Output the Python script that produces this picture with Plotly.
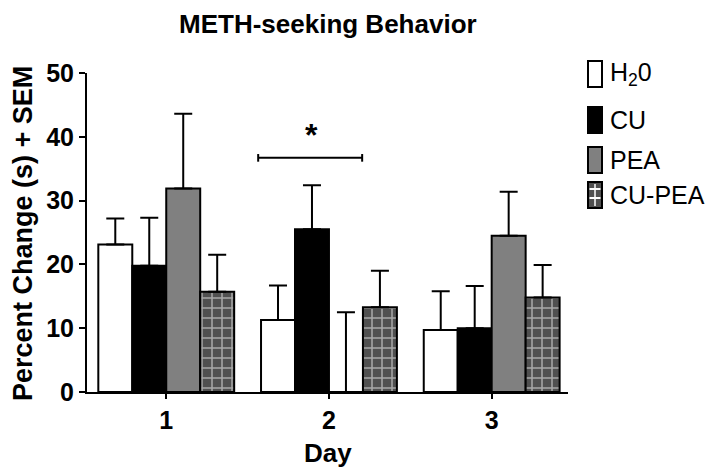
import plotly.graph_objects as go

# ---- data ----
days = ["1", "2", "3"]
groups = ["H<sub>2</sub>0", "CU", "PEA", "CU-PEA"]
h2o = [23.1, 11.3, 9.7]
h2o_sem = [4.1, 5.4, 6.1]
cu = [19.8, 25.5, 10.0]
cu_sem = [7.5, 6.9, 6.6]
pea = [31.9, 0.0, 24.5]
pea_sem = [11.7, 12.5, 6.9]
cupea = [15.7, 13.3, 14.8]
cupea_sem = [5.8, 5.7, 5.1]
sig_label = "*"
sig_y = 36.7

FONT = "Liberation Sans, Arial, Helvetica, sans-serif"
W, H = 710, 468
ML, MR, MT, MB = 87, 142, 73, 76
PW, PH = W - ML - MR, H - MT - MB

def px_x(x):
    return (x - ML) / PW

def px_y(y):
    return (H - MB - y) / PH

xs = list(range(len(days)))
series = [
    (groups[0], h2o, h2o_sem, dict(color="white")),
    (groups[1], cu, cu_sem, dict(color="black")),
    (groups[2], pea, pea_sem, dict(color="#808080")),
    (groups[3], cupea, cupea_sem, dict(color="#505050",
        pattern=dict(shape="+", fgcolor="white", bgcolor="#505050",
                     size=10, solidity=0.28))),
]

fig = go.Figure()
for name, vals, sem, mk in series:
    fig.add_trace(go.Bar(
        x=xs, y=vals, name=name,
        marker=dict(line=dict(color="black", width=2), **mk),
        error_y=dict(type="data", array=sem, arrayminus=[0] * len(sem),
                     symmetric=False, color="black", thickness=2, width=9),
        showlegend=False,
    ))

fig.update_layout(
    width=W, height=H,
    margin=dict(l=ML, r=MR, t=MT, b=MB),
    paper_bgcolor="white", plot_bgcolor="white",
    barmode="group", bargap=0.165, bargroupgap=0,
    font=dict(family=FONT, color="black"),
    showlegend=False,
)
fig.update_xaxes(
    range=[-0.487, 2.469], tickvals=xs, ticktext=days,
    showline=True, linecolor="black", linewidth=2,
    ticks="outside", ticklen=5, tickwidth=2, tickcolor="black",
    showgrid=False, zeroline=False,
    tickfont=dict(size=25, family=FONT, weight="bold"),
)
fig.update_yaxes(
    range=[0, 50], tickvals=[0, 10, 20, 30, 40, 50],
    showline=True, linecolor="black", linewidth=2,
    ticks="outside", ticklen=6, tickwidth=2, tickcolor="black",
    showgrid=False, zeroline=False,
    tickfont=dict(size=25, family=FONT, weight="bold"),
)

ann = []
# title
ann.append(dict(text="<b>METH-seeking Behavior</b>", xref="paper", yref="paper",
                x=px_x(328), y=px_y(24), showarrow=False,
                font=dict(size=26, family=FONT), xanchor="center", yanchor="middle"))
# y title
ann.append(dict(text="<b>Percent Change (s) + SEM</b>", xref="paper", yref="paper",
                x=px_x(23), y=px_y(234), textangle=-90, showarrow=False,
                font=dict(size=27, family=FONT), xanchor="center", yanchor="middle"))
# x title
ann.append(dict(text="<b>Day</b>", xref="paper", yref="paper",
                x=px_x(328), y=px_y(453), showarrow=False,
                font=dict(size=26, family=FONT), xanchor="center", yanchor="middle"))
# significance star
ann.append(dict(text="<b>" + sig_label + "</b>", x=0.89, y=sig_y + 0.4, xref="x", yref="y",
                showarrow=False, font=dict(size=32, family=FONT),
                xanchor="center", yanchor="bottom"))

shapes = []
# significance bracket
x0b, x1b = 0.565, 1.204
shapes.append(dict(type="line", xref="x", yref="y", x0=x0b, x1=x1b, y0=sig_y, y1=sig_y,
                   line=dict(color="black", width=2)))
for xb in (x0b, x1b):
    shapes.append(dict(type="line", xref="x", yref="y", x0=xb, x1=xb,
                       y0=sig_y - 0.6, y1=sig_y + 0.6, line=dict(color="black", width=2)))

# custom legend
leg_y = [74, 120, 160, 195]
leg_fill = ["white", "black", "#808080", "#505050"]
bx0, bx1 = 588, 602
for i, (name, yc) in enumerate(zip(groups, leg_y)):
    shapes.append(dict(type="rect", xref="paper", yref="paper",
                       x0=px_x(bx0), x1=px_x(bx1), y0=px_y(yc + 13), y1=px_y(yc - 13),
                       fillcolor=leg_fill[i], line=dict(color="black", width=2)))
    ann.append(dict(text=name, xref="paper", yref="paper", x=px_x(608), y=px_y(yc),
                    showarrow=False, xanchor="left", yanchor="middle",
                    font=dict(size=25, family=FONT)))
# grid lines in CU-PEA legend box
yc = leg_y[3]
for yy in (yc - 6, yc + 3):
    shapes.append(dict(type="line", xref="paper", yref="paper",
                       x0=px_x(bx0 + 1.5), x1=px_x(bx1 - 1.5), y0=px_y(yy), y1=px_y(yy),
                       line=dict(color="white", width=2)))
shapes.append(dict(type="line", xref="paper", yref="paper",
                   x0=px_x(595), x1=px_x(595), y0=px_y(yc + 11), y1=px_y(yc - 11),
                   line=dict(color="white", width=1.5)))

fig.update_layout(annotations=ann, shapes=shapes)
fig.write_html("out.html", config={"displayModeBar": False},
               post_script="document.body.style.margin='0px';")
